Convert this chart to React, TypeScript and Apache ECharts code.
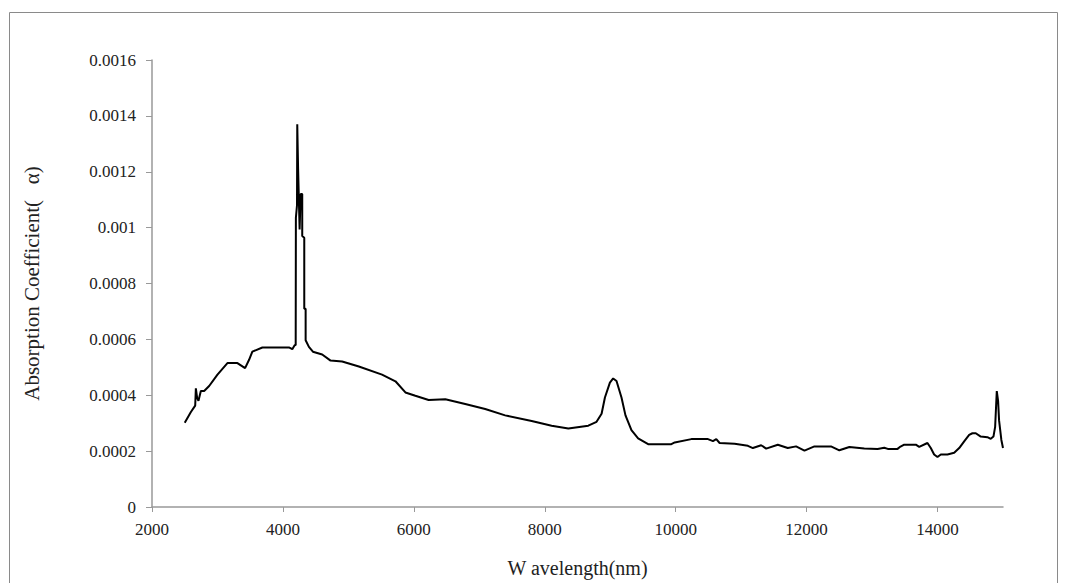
import React, { useEffect, useRef } from "react";
import * as echarts from "echarts";

const wavelengths = [
  2500, 2594, 2660, 2670, 2690, 2710, 2746, 2797, 2873, 3000, 3152, 3305, 3422, 3483, 3533, 3686,
  4092, 4143, 4179, 4195, 4198, 4215, 4219, 4232, 4255, 4271, 4295, 4295, 4326, 4326, 4347, 4347,
  4397, 4458, 4600, 4728, 4905, 5160, 5514, 5719, 5871, 6023, 6226, 6481, 6785, 7090, 7395, 7800,
  8105, 8360, 8665, 8791, 8868, 8919, 8995, 9045, 9096, 9172, 9233, 9324, 9426, 9579, 9934, 9985,
  10239, 10493, 10569, 10620, 10671, 10900, 11103, 11179, 11306, 11382, 11560, 11712, 11839, 11967,
  12119, 12372, 12500, 12653, 12881, 13084, 13186, 13240, 13389, 13420, 13491, 13668, 13720, 13846,
  13897, 13948, 13999, 14050, 14152, 14254, 14331, 14407, 14483, 14533, 14584, 14660, 14762, 14813,
  14854, 14880, 14905, 14925, 14940, 14975, 15000,
];

const alpha = [
  0.000302, 0.00034, 0.000363, 0.000425, 0.00039, 0.00038, 0.000415, 0.000415, 0.000433, 0.000474,
  0.000515, 0.000515, 0.000497, 0.000527, 0.000556, 0.000571, 0.000571, 0.000565, 0.000579, 0.00058,
  0.001035, 0.00108, 0.00137, 0.00121, 0.000993, 0.00112, 0.00112, 0.00097, 0.000964, 0.00071,
  0.00071, 0.000597, 0.000573, 0.000556, 0.000546, 0.000524, 0.000521, 0.000503, 0.000474, 0.00045,
  0.00041, 0.000398, 0.000383, 0.000386, 0.000369, 0.000351, 0.000328, 0.000308, 0.000291, 0.000281,
  0.000291, 0.000305, 0.000334, 0.000392, 0.000445, 0.00046, 0.000451, 0.000392, 0.000328, 0.000275,
  0.000246, 0.000225, 0.000225, 0.000231, 0.000243, 0.000243, 0.000236, 0.000243, 0.000229, 0.000226,
  0.000219, 0.000211, 0.000221, 0.000209, 0.000223, 0.000211, 0.000217, 0.000202, 0.000217, 0.000217,
  0.000203, 0.000215, 0.000209, 0.000208, 0.000212, 0.000208, 0.000208, 0.000214, 0.000223, 0.000223,
  0.000215, 0.000229, 0.000211, 0.000188, 0.000179, 0.000188, 0.000188, 0.000194, 0.000211, 0.000235,
  0.000258, 0.000264, 0.000264, 0.000252, 0.00025, 0.000244, 0.000252, 0.000287, 0.000415, 0.00038,
  0.00031, 0.00024, 0.000211,
];

const xTicks = [2000, 4000, 6000, 8000, 10000, 12000, 14000];
const xTitle = "W avelength(nm)";
const yTitle = "Absorption Coefficient(   α)";

export default function App() {
  const ref = useRef<HTMLDivElement>(null);
  useEffect(() => {
    if (!ref.current) return;
    const chart = echarts.init(ref.current, null, { renderer: "svg" });
    const font = "Liberation Serif";
    const data = wavelengths.map((w, i) => [w, alpha[i]]);
    chart.setOption({
      animation: false,
      backgroundColor: "#fff",
      textStyle: { fontFamily: font },
      grid: { left: 152, right: 62, top: 60, bottom: 68 },
      graphic: [
        {
          type: "rect",
          shape: { x: 9.5, y: 12.5, width: 1048, height: 600 },
          style: { fill: "none", stroke: "#8a8a8a", lineWidth: 1 },
          silent: true,
        },
      ],
      xAxis: {
        type: "value",
        min: 2000,
        max: 15000,
        interval: 2000,
        splitLine: { show: false },
        axisLine: { show: true, lineStyle: { color: "#999", width: 1.5 } },
        axisTick: { show: true, length: 5, lineStyle: { color: "#999" }, customValues: xTicks },
        axisLabel: {
          margin: 14,
          fontSize: 17,
          color: "#222",
          fontFamily: font,
          customValues: xTicks,
          formatter: (v: number) => String(v),
        },
        name: xTitle,
        nameLocation: "middle",
        nameGap: 51,
        nameTextStyle: { fontSize: 20, color: "#222", fontFamily: font },
      },
      yAxis: {
        type: "value",
        min: 0,
        max: 0.0016,
        interval: 0.0002,
        splitLine: { show: false },
        axisLine: { show: true, lineStyle: { color: "#999", width: 1.5 } },
        axisTick: { show: true, length: 6, lineStyle: { color: "#999" } },
        axisLabel: {
          margin: 16,
          fontSize: 17,
          color: "#222",
          fontFamily: font,
          formatter: (v: number) => (v === 0 ? "0" : String(+v.toFixed(4))),
        },
        name: yTitle,
        nameLocation: "middle",
        nameGap: 110,
        nameTextStyle: { fontSize: 21, color: "#222", fontFamily: font },
      },
      series: [
        {
          type: "line",
          data,
          showSymbol: false,
          symbol: "none",
          clip: false,
          lineStyle: { color: "#000", width: 2 },
        },
      ],
    });
    return () => chart.dispose();
  }, []);
  return (
    <div
      ref={ref}
      style={{ position: "fixed", left: 0, top: 0, width: 1065, height: 583 }}
    />
  );
}
